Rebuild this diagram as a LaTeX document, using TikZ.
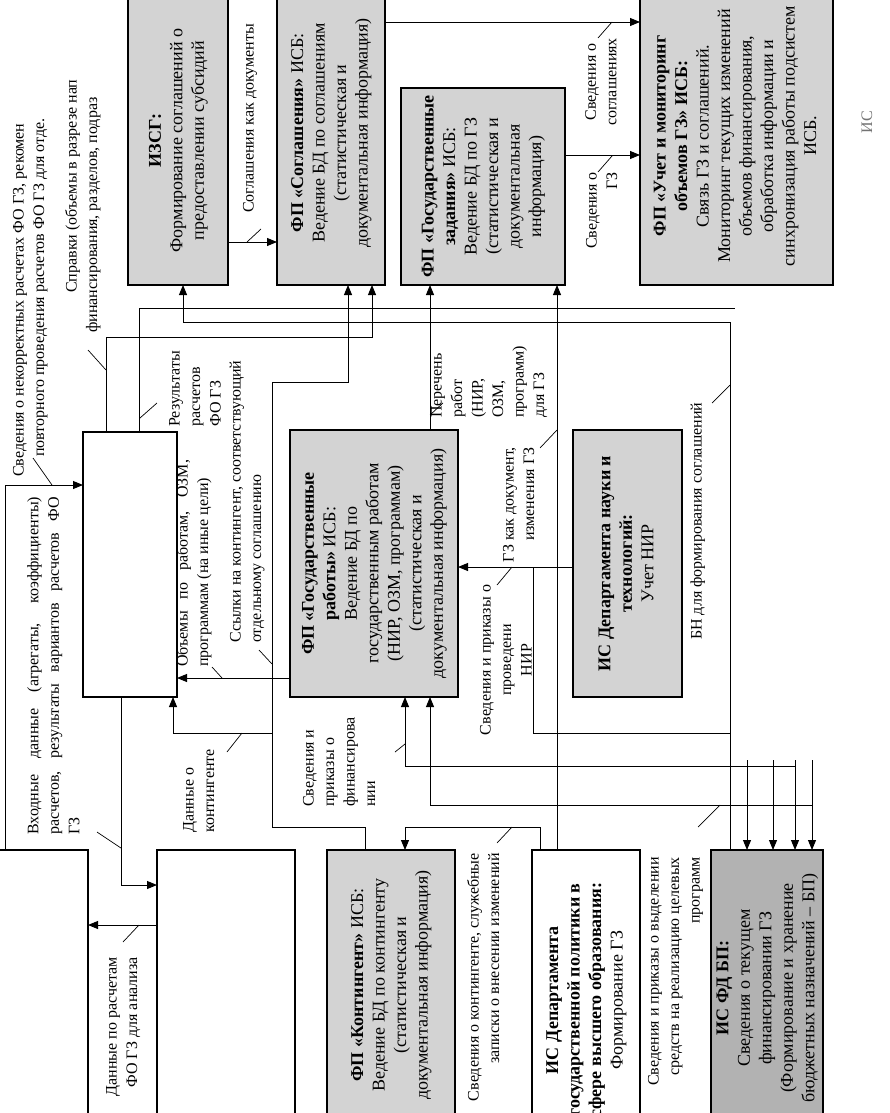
\documentclass[tikz,border=0pt]{standalone}
\usepackage{fontspec}
\setmainfont{Liberation Serif}
\usepackage{graphicx}
\usetikzlibrary{arrows.meta,positioning}

\definecolor{boxgray}{RGB}{211,211,211}
\definecolor{bpgray}{RGB}{178,178,178}
\newcommand{\boxfont}{\fontsize{18}{21.5}\selectfont}
\newcommand{\lblfont}{\fontsize{16}{20.5}\selectfont}
% text turned by 90 degrees, read from bottom to top
\newcommand{\vtext}[2][c]{\rotatebox{90}{\begin{tabular}{@{}#1@{}}#2\end{tabular}}}

\begin{document}
\begin{tikzpicture}[x=1pt, y=-1pt,
	basic/.style = {draw, line width=2.8pt, inner sep=0pt, outer sep=0pt, anchor=north west, font=\boxfont},
	gbox/.style  = {basic, fill=boxgray},
	wbox/.style  = {basic, fill=white},
	bpbox/.style = {basic, fill=bpgray},
	lbl/.style   = {inner sep=0pt, font=\lblfont},
	arr/.style   = {->, line width=0.9pt},
	line/.style  = {line width=0.9pt},
	tick/.style  = {line width=0.7pt},
	>={Triangle[length=10pt, width=8pt]}]

	\path[use as bounding box, fill=white] (0,0) rectangle (889,1113);
	\clip (0,0) rectangle (889,1113);

	% upper row of boxes
	\node[gbox, minimum width=100pt, minimum height=289pt] (izsg) at (128,-4)
		{\vtext{\textbf{ИЗСГ:}\\Формирование соглашений о\\предоставлении субсидий}};
	\node[gbox, minimum width=108pt, minimum height=304pt] (sogl) at (277,-19)
		{\vtext{\textbf{ФП «Соглашения»} ИСБ:\\Ведение БД по соглашениям\\(статистическая и\\документальная информация)}};
	\node[gbox, minimum width=164pt, minimum height=197pt] (gzad) at (401,88)
		{\vtext{\textbf{ФП «Государственные}\\\textbf{задания»} ИСБ:\\Ведение БД по ГЗ\\(статистическая и\\документальная\\информация)}};
	\node[gbox, minimum width=193pt, minimum height=298pt] (uchet) at (640,-13)
		{\vtext{\textbf{ФП «Учет и мониторинг}\\\textbf{объемов ГЗ» ИСБ:}\\Связь ГЗ и соглашений.\\Мониторинг текущих изменений\\объемов финансирования,\\обработка информации и\\синхронизация работы подсистем\\ИСБ.}};

	% middle row of boxes
	\node[wbox, minimum width=94pt, minimum height=265pt] (rasch) at (83,432) {};
	\node[gbox, minimum width=168pt, minimum height=267pt] (raboty) at (290,430)
		{\vtext{\textbf{ФП «Государственные}\\\textbf{работы»} ИСБ:\\Ведение БД по\\государственным работам\\(НИР, ОЗМ, программам)\\(статистическая и\\документальная информация)}};
	\node[gbox, minimum width=109pt, minimum height=267pt] (dnt) at (573,430)
		{\vtext{\textbf{ИС Департамента науки и}\\\textbf{технологий:}\\Учет НИР}};

	% lower row of boxes
	\node[wbox, minimum width=108pt, minimum height=300pt] (analiz) at (-20,850) {};
	\node[wbox, minimum width=138pt, minimum height=300pt] (fo) at (157,850) {};
	\node[gbox, minimum width=128pt, minimum height=270pt] (kont) at (327,850)
		{\vtext{\textbf{ФП «Контингент»} ИСБ:\\Ведение БД по контингенту\\(статистическая и\\документальная информация)}};
	\node[wbox, minimum width=108pt, minimum height=300pt] (dgp) at (532,850)
		{\vtext{\textbf{ИС Департамента}\\\textbf{государственной политики в}\\\textbf{сфере высшего образования:}\\Формирование ГЗ}};
	\node[bpbox, minimum width=112pt, minimum height=276pt] (fdbp) at (711,850)
		{\vtext{\textbf{ИС ФД БП:}\\Сведения о текущем\\финансировании ГЗ\\(Формирование и хранение\\бюджетных назначений – БП)}};

	% bends of the connectors
	\coordinate (agrY) at (0,242);
	\coordinate (soglY) at (0,22);
	\coordinate (gzY) at (0,155);
	\coordinate (res) at (139,308);
	\coordinate (resEnd) at (735,308);
	\coordinate (sprav) at (106,337);
	\coordinate (spravX) at (372,0);
	\coordinate (bn) at (730,322);
	\coordinate (bnX) at (183,0);
	\coordinate (nekor) at (5,485);
	\coordinate (vhod) at (121,885);
	\coordinate (analY) at (0,925);
	\coordinate (obemY) at (0,678);
	\coordinate (kontA) at (365,827);
	\coordinate (kontB) at (272,382);
	\coordinate (kontX) at (348,0);
	\coordinate (kontC) at (272,733);
	\coordinate (kontX2) at (173,0);
	\coordinate (perX) at (430,0);
	\coordinate (gzX) at (557,0);
	\coordinate (nirY) at (0,567);
	\coordinate (nirA) at (533,567);
	\coordinate (nirB) at (730,733);
	\coordinate (svk) at (540,827);
	\coordinate (svkX) at (405,0);
	\coordinate (fin) at (795,766);
	\coordinate (finTop) at (795,760);
	\coordinate (vyd) at (812,805);
	\coordinate (vydTop) at (812,760);
	\coordinate (vydX) at (430,0);
	\coordinate (inA) at (747,760);
	\coordinate (inB) at (773,760);

	% connectors
	\draw[arr] (izsg.east |- agrY) -- (sogl.west |- agrY);
	\draw[arr] (sogl.east |- soglY) -- (uchet.west |- soglY);
	\draw[arr] (gzad.east |- gzY) -- (uchet.west |- gzY);
	\draw[line] (rasch.north -| res) -- (res) -- (resEnd);
	\draw[arr] (rasch.north -| sprav) -- (sprav) -| (sogl.south -| spravX);
	\draw[arr] (fdbp.north -| bn) -- (bn) -| (izsg.south -| bnX);
	\draw[arr] (analiz.north -| nekor) -- (nekor) -- (rasch.west |- nekor);
	\draw[arr] (rasch.south -| vhod) -- (vhod) -- (fo.west |- vhod);
	\draw[arr] (fo.west |- analY) -- (analiz.east |- analY);
	\draw[arr] (raboty.west |- obemY) -- (rasch.east |- obemY);
	\draw[arr] (kont.north -| kontA) -- (kontA) -| (kontB) -| (sogl.south -| kontX);
	\draw[arr] (kontC) -| (rasch.south -| kontX2);
	\draw[arr] (raboty.north -| perX) -- (gzad.south -| perX);
	\draw[arr] (dgp.north -| gzX) -- (gzad.south -| gzX);
	\draw[arr] (dnt.west |- nirY) -- (raboty.east |- nirY);
	\draw[line] (nirA) |- (nirB);
	\draw[arr] (dgp.north -| svk) -- (svk) -| (kont.north -| svkX);
	\draw[arr] (fin) -| (raboty.south -| svkX);
	\draw[arr] (vyd) -| (raboty.south -| vydX);
	\foreach \c in {inA, inB, finTop, vydTop}
		\draw[arr] (\c) -- (fdbp.north -| \c);

	% connector labels
	\node[lbl, anchor=south west] (lSoglDoc) at (239,213) {\vtext[l]{Соглашения как документы}};
	\node[lbl, anchor=center] (lSvSogl) at (602,82) {\vtext{Сведения о\\соглашениях}};
	\node[lbl, anchor=north west] (lSvGz) at (582,172) {\vtext[r]{Сведения о\\ГЗ}};
	\node[lbl, anchor=south west] (lRes) at (165,427) {\vtext[l]{Результаты\\расчетов\\ФО ГЗ}};
	\node[lbl, anchor=south west] (lSprav) at (62,333)
		{\vtext[l]{\hspace*{40pt}Справки (объемы в разрезе нап\\финансирования, разделов, подраз}};
	\node[lbl, anchor=south west] (lNekor) at (9,477)
		{\vtext[l]{Сведения о некорректных расчетах ФО ГЗ, рекомен\\\hspace*{20pt}повторного проведения расчетов ФО ГЗ для отде.}};
	\node[lbl, anchor=south west] (lVhod) at (27,835)
		{\rotatebox{90}{\parbox{338pt}{Входные данные (агрегаты, коэффициенты)\linebreak расчетов, результаты вариантов расчетов ФО\linebreak ГЗ}}};
	\node[lbl, anchor=north west] (lAnal) at (102,957) {\vtext[r]{Данные по расчетам\\ФО ГЗ для анализа}};
	\node[lbl, anchor=south west] (lObem) at (176,667)
		{\rotatebox{90}{\parbox{207pt}{Объемы по работам, ОЗМ,\linebreak программам (на иные цели)}}};
	\node[lbl, anchor=south west] (lSsyl) at (226,643) {\vtext[l]{Ссылки на контингент, соответствующий\\отдельному соглашению}};
	\node[lbl, anchor=south west] (lDanKont) at (179,833) {\vtext[l]{Данные о\\контингенте}};
	\node[lbl, anchor=south west] (lPerech) at (427,418) {\vtext[l]{Перечень\\работ\\(НИР,\\ОЗМ,\\программ)\\для ГЗ}};
	\node[lbl, anchor=north west] (lGzDoc) at (499,447) {\vtext[r]{ГЗ как документ,\\изменения ГЗ}};
	\node[lbl, anchor=center] (lNir) at (507,660) {\vtext{Сведения и приказы о\\проведени\\НИР}};
	\node[lbl, anchor=north west] (lSvKont) at (464,853) {\vtext[r]{Сведения о контингенте, служебные\\записки о внесении изменений}};
	\node[lbl, anchor=south west] (lBn) at (687,640) {\vtext[l]{БН для формирования соглашений}};
	\node[lbl, anchor=south west] (lFin) at (299,807) {\vtext[l]{Сведения и\\приказы о\\финансирова\\нии}};
	\node[lbl, anchor=north west] (lVyd) at (644,857) {\vtext[r]{Сведения и приказы о выделении\\средств на реализацию целевых\\программ}};
	\node[lbl, text=black!55] (frag) at (868,122) {\vtext{ИС}};

	% ticks from labels to their connectors
	\foreach \ax/\ay/\bx/\by in {247/242/261/229, 598/38/612/22, 598/172/612/156, 140/418/157/403,
		88/350/106/370, 33/458/52/485, 97/832/121/848, 123/942/139/925, 212/667/222/678,
		259/650/272/664, 227/752/242/733, 430/415/443/403, 540/448/557/430, 497/585/512/567,
		497/843/512/827, 712/403/730/385, 395/752/405/744, 698/827/720/805}
		\draw[tick] (\ax,\ay) -- (\bx,\by);

\end{tikzpicture}
\end{document}
